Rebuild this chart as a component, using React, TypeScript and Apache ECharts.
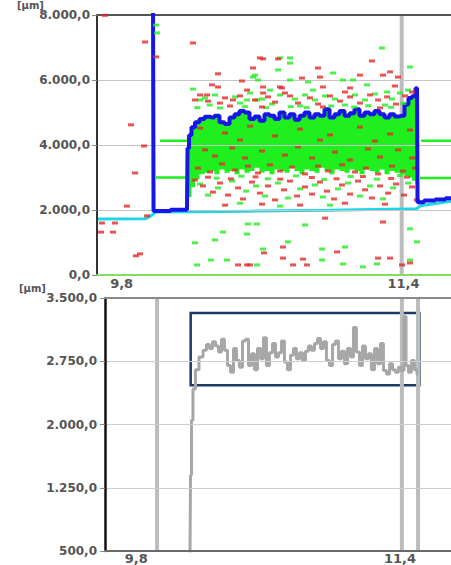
import React, { useEffect, useRef } from "react";
import * as echarts from "echarts";

// ---------- axes ----------
const TOP_Y = { min: 0, max: 8000, step: 2000 };
const BOT_Y = { min: 500, max: 3500, step: 750 };
const TOP_X_RANGE = [9.66, 11.67];
const BOT_X_RANGE = [9.61, 11.71];
const X_LABELS = [9.8, 11.4];
const UNIT = "[µm]";

// ---------- top chart: blue thickness trace ----------
const blueX = [9.978, 9.984, 10.171, 10.177, 10.188, 10.205, 10.228, 10.256, 10.285, 10.313, 10.341, 10.37, 10.398, 10.427, 10.455, 10.483, 10.512, 10.54, 10.568, 10.597, 10.625, 10.654, 10.682, 10.71, 10.739, 10.767, 10.796, 10.824, 10.852, 10.881, 10.909, 10.938, 10.966, 10.994, 11.023, 11.051, 11.08, 11.108, 11.136, 11.165, 11.193, 11.221, 11.25, 11.278, 11.307, 11.335, 11.363, 11.392, 11.42, 11.437, 11.46, 11.477, 11.483, 11.551, 11.608, 11.67];
const blueV = [8600, 1970, 2010, 3900, 4300, 4550, 4700, 4800, 4870, 4850, 4900, 4700, 4650, 4850, 4950, 5050, 5000, 4800, 4880, 4750, 4950, 4900, 4800, 5000, 4850, 4950, 4780, 4900, 5000, 4850, 4950, 4900, 5100, 4850, 4950, 5050, 4900, 4980, 5100, 4900, 5000, 4950, 5050, 4950, 4850, 4950, 4880, 4900, 5250, 5450, 5500, 5750, 2240, 2290, 2320, 2360];

// dense green cloud: lower edge, for blueX[3..51]
const bandLow = [2300, 2400, 2700, 2950, 3100, 3150, 3200, 3100, 3250, 3150, 3200, 3100, 3250, 3150, 3200, 3300, 3150, 3200, 3100, 3250, 3200, 3150, 3300, 3200, 3100, 3250, 3200, 3150, 3300, 3200, 3100, 3250, 3200, 3150, 3250, 3200, 3100, 3250, 3200, 3150, 3250, 3100, 3200, 3150, 3100, 3050, 3000, 2900, 2800];

// cyan reference trace
const cyanX = [9.66, 9.933, 9.961, 9.995, 10.188, 10.529, 10.983, 11.477, 11.495, 11.67];
const cyanV = [1720, 1730, 1800, 1940, 1945, 1965, 1990, 2040, 2130, 2270];

// green level segments [xStart, xEnd, value]
const greenLevels = [
  [10.018, 10.171, 4130],
  [11.5, 11.67, 4130],
  [9.995, 10.171, 3000],
  [11.494, 11.67, 2985],
];

const topMarkerX = [11.39];

// scattered single measurements
const redOutliers = [[9.933,7170],[9.995,6710],[10.205,7140],[10.347,6190],[9.853,4620],[9.927,3970],[9.876,3140],[9.83,2120],[9.688,1600],[9.762,1600],[9.683,1320],[9.751,1320],[9.881,590],[9.904,650],[9.944,1820],[10.608,680],[10.461,310],[10.512,310],[10.716,520],[10.716,860],[10.955,1750],[11.284,1630],[11.023,710],[10.83,490],[10.773,310],[10.852,310],[11.256,520],[11.324,520],[11.437,370],[11.392,310],[10.529,310],[9.705,7990]];
const redUpper = [[10.585,6680],[10.546,6370],[10.483,5970],[10.699,5785],[10.313,5850],[10.347,5785],[10.512,5690],[10.603,5600],[10.432,5385],[10.285,5540],[10.29,5350],[10.358,5290],[11.221,6585],[10.603,6650],[10.688,6650],[10.915,6370],[11.324,6250],[11.153,6150],[10.824,6060],[10.926,6090],[11.284,6150],[11.369,6090],[10.603,5785],[10.71,5755],[10.943,5785],[11.097,5755],[11.352,5815],[10.216,5385],[10.245,5540],[10.387,5450],[10.472,5510],[10.557,5385],[10.631,5480],[10.671,5320],[10.756,5510],[10.801,5290],[10.869,5450],[10.915,5260],[10.983,5510],[11.04,5350],[11.097,5480],[11.153,5290],[11.21,5540],[11.256,5385],[11.307,5480],[11.358,5260],[11.409,5510],[11.449,5630],[10.727,5600],[11.068,5630],[10.415,5200],[10.597,5170],[10.943,5170],[11.267,5140]];
const redInner = [[10.245,4520],[10.387,4370],[10.529,4580],[10.671,4280],[10.813,4490],[10.983,4310],[11.153,4550],[11.324,4340],[11.437,4460],[10.472,4150],[10.926,4150],[11.238,4120],[10.273,3850],[10.33,3660],[10.427,3910],[10.5,3600],[10.597,3815],[10.727,3690],[10.801,3940],[10.881,3600],[11.011,3780],[11.097,3540],[11.199,3880],[11.267,3630],[11.369,3850],[11.449,3600],[10.233,3290],[10.302,3170],[10.37,3420],[10.444,3230],[10.517,3350],[10.574,3140],[10.642,3390],[10.699,3200],[10.767,3320],[10.841,3110],[10.915,3350],[10.972,3200],[11.051,3390],[11.125,3170],[11.187,3290],[11.256,3110],[11.335,3350],[11.398,3200],[11.466,3290]];
const redLower = [[10.216,2920],[10.262,2740],[10.318,2550],[10.358,2830],[10.404,2460],[10.461,2680],[10.489,2340],[10.54,2860],[10.585,2520],[10.631,2740],[10.671,2310],[10.722,2620],[10.756,2890],[10.796,2430],[10.841,2710],[10.881,2490],[10.926,2860],[10.966,2580],[11.006,2340],[11.051,2770],[11.097,2490],[11.142,2890],[11.182,2620],[11.221,2370],[11.267,2740],[11.313,2520],[11.358,2800],[11.403,2460],[11.449,2710],[11.477,2310],[10.387,2150],[10.597,2180],[10.813,2150],[11.068,2210],[11.295,2180],[10.29,3010],[10.42,2960],[10.56,3020],[10.7,2950],[10.88,3000],[11.02,2960],[11.17,3030],[11.33,2970],[11.42,3010]];
const greenUpper = [[9.995,7690],[10.001,7450],[11.278,6985],[11.437,6400],[10.699,6680],[10.756,6680],[10.756,6520],[10.688,6310],[10.546,6090],[10.574,6000],[10.205,5720],[10.512,5385],[10.568,5385],[10.245,5385],[11.0,6215],[10.858,5940],[11.114,6000],[11.057,6000],[10.756,6000],[10.642,5690],[10.886,5690],[11.193,5850],[11.307,5630],[10.557,6150],[10.273,5450],[10.33,5540],[10.444,5480],[10.529,5600],[10.597,5415],[10.699,5540],[10.784,5415],[10.841,5540],[10.898,5385],[10.955,5510],[11.011,5415],[11.125,5540],[11.182,5385],[11.238,5570],[11.335,5415],[11.38,5600],[11.426,5690],[10.472,5290],[10.654,5260],[10.813,5200],[11.068,5230],[11.295,5230],[10.358,5140],[10.23,5150],[10.3,5230],[10.5,5180],[10.62,5150],[10.76,5180],[10.85,5150],[10.99,5200],[11.12,5170],[11.2,5210],[11.33,5160],[11.4,5280]];
const greenLower = [[10.245,2800],[10.29,2460],[10.347,2680],[10.427,2890],[10.506,2580],[10.563,2740],[10.614,2430],[10.688,2830],[10.744,2370],[10.813,2650],[10.898,2770],[10.943,2400],[11.028,2650],[11.085,2830],[11.153,2430],[11.21,2740],[11.284,2340],[11.341,2680],[11.426,2830],[10.472,2210],[10.983,2150],[10.699,2120],[10.34,2980],[10.48,3040],[10.63,2960],[10.79,3050],[10.95,2940],[11.1,3030],[11.25,2950],[11.38,3060]];
const greenOutliers = [[10.375,1320],[10.33,1080],[10.517,1570],[10.512,1260],[10.216,990],[10.603,800],[10.307,460],[10.398,460],[10.568,310],[10.228,310],[10.841,1540],[10.744,1020],[10.938,800],[11.068,860],[10.938,460],[11.437,1420],[11.477,1020],[11.437,460],[11.17,250],[11.057,340],[11.25,340],[10.568,1570]];

// ---------- bottom chart ----------
const bottomTrace = [[10.126,480],[10.132,1400],[10.138,2050],[10.15,2420],[10.168,2650],[10.193,2800],[10.217,2880],[10.235,2950],[10.253,2900],[10.272,2980],[10.29,2930],[10.308,2860],[10.326,3010],[10.344,2880],[10.363,2700],[10.381,2620],[10.399,2900],[10.417,2760],[10.435,2680],[10.454,2990],[10.472,3010],[10.49,2700],[10.508,2840],[10.526,2650],[10.545,2900],[10.563,2780],[10.581,3030],[10.599,2700],[10.617,2850],[10.636,2960],[10.654,2800],[10.672,2850],[10.69,2990],[10.708,2740],[10.727,2650],[10.745,2820],[10.763,2900],[10.781,2780],[10.8,2850],[10.818,2760],[10.836,2870],[10.854,2930],[10.872,2880],[10.891,2960],[10.909,3020],[10.927,2900],[10.945,2980],[10.963,2760],[10.982,2700],[11.0,2950],[11.018,2990],[11.036,2780],[11.054,2870],[11.073,2720],[11.091,2900],[11.109,2800],[11.127,3150],[11.145,2860],[11.164,2700],[11.182,2930],[11.2,2780],[11.218,2840],[11.236,2650],[11.255,2900],[11.273,2720],[11.291,2960],[11.309,2640],[11.328,2600],[11.346,2720],[11.364,2650],[11.382,2620],[11.4,2680],[11.419,2640],[11.431,3280],[11.443,2700],[11.461,2620],[11.479,2760],[11.497,2650],[11.51,2600]];
const bottomMarkersX = [9.926, 11.412, 11.51];
const focusBox = { x: [10.13, 11.518], v: [3321, 2465] };

// ---------- colours ----------
const GREEN = "#1fee1f";
const RED = "#e42a2a";
const BLUE = "#1616e6";
const CYAN = "#1fd6e8";
const GRAY_TRACE = "#a7a7a7";
const GRAY_MARK = "#bcbcbc";
const NAVY = "#1c3a63";
const LABEL = "#555555";

const fmtDE = (v: number) => {
  const [i, d] = v.toFixed(1).split(".");
  return i.replace(/\B(?=(\d{3})+(?!\d))/g, ".") + "," + d;
};
const fmtX = (v: number) => v.toFixed(1).replace(".", ",");

function stepPoints(pts: number[][]) {
  const out: number[][] = [pts[0]];
  for (let i = 1; i < pts.length; i++) {
    const mx = (pts[i - 1][0] + pts[i][0]) / 2;
    out.push([mx, pts[i - 1][1]], [mx, pts[i][1]]);
  }
  out.push(pts[pts.length - 1]);
  return out;
}

export default function App() {
  const ref = useRef<HTMLDivElement>(null);
  useEffect(() => {
    if (!ref.current) return;
    const chart = echarts.init(ref.current, undefined, { renderer: "svg" });
    const bandX = blueX.slice(3, 52);
    const bandHigh = blueV.slice(3, 52);
    const dots = (data: number[][], color: string, z: number) => ({
      type: "scatter",
      xAxisIndex: 0,
      yAxisIndex: 0,
      data,
      symbol: "rect",
      symbolSize: [6, 3],
      itemStyle: { color },
      silent: true,
      z,
    });
    const labelFont = { color: LABEL, fontFamily: "DejaVu Sans", fontWeight: "bold" as const };
    const option: any = {
      animation: false,
      backgroundColor: "#ffffff",
      grid: [
        { left: 97, top: 15, right: 0, height: 260 },
        { left: 105, top: 298, right: 0, height: 257 },
      ],
      xAxis: [
        {
          type: "value", gridIndex: 0, min: TOP_X_RANGE[0], max: TOP_X_RANGE[1], z: 5,
          axisLine: { onZero: false, lineStyle: { color: "#7ee05c", width: 2 } },
          axisTick: { show: false }, splitLine: { show: false },
          axisLabel: { ...labelFont, fontSize: 13, margin: 2, customValues: X_LABELS, formatter: fmtX },
        },
        {
          type: "value", gridIndex: 0, position: "top", min: TOP_X_RANGE[0], max: TOP_X_RANGE[1], z: 5,
          axisLine: { onZero: false, lineStyle: { color: "#555", width: 2 } },
          axisTick: { show: false }, splitLine: { show: false }, axisLabel: { show: false },
        },
        {
          type: "value", gridIndex: 1, min: BOT_X_RANGE[0], max: BOT_X_RANGE[1], z: 5,
          axisLine: { onZero: false, lineStyle: { color: "#6a6a6a", width: 2 } },
          axisTick: { show: false }, splitLine: { show: false },
          axisLabel: { ...labelFont, fontSize: 13, margin: 1, customValues: X_LABELS, formatter: fmtX },
        },
        {
          type: "value", gridIndex: 1, position: "top", min: BOT_X_RANGE[0], max: BOT_X_RANGE[1], z: 5,
          axisLine: { onZero: false, lineStyle: { color: "#8a8a8a", width: 2 } },
          axisTick: { show: false }, splitLine: { show: false }, axisLabel: { show: false },
        },
      ],
      yAxis: [
        {
          type: "value", gridIndex: 0, min: TOP_Y.min, max: TOP_Y.max, interval: TOP_Y.step, z: 5,
          axisLine: { show: true, onZero: false, lineStyle: { color: "#333", width: 2 } },
          axisTick: { show: true, length: 5, lineStyle: { color: "#888" } },
          splitLine: { lineStyle: { color: "#c6c6c6", width: 1 } },
          axisLabel: { ...labelFont, fontSize: 12, margin: 7, formatter: fmtDE },
        },
        {
          type: "value", gridIndex: 1, min: BOT_Y.min, max: BOT_Y.max, interval: BOT_Y.step, z: 5,
          axisLine: { show: true, onZero: false, lineStyle: { color: "#111", width: 2.5 } },
          axisTick: { show: true, length: 5, lineStyle: { color: "#888" } },
          splitLine: { lineStyle: { color: "#cfcfcf", width: 1 } },
          axisLabel: { ...labelFont, fontSize: 12, margin: 8, formatter: fmtDE },
        },
      ],
      graphic: [
        { type: "text", left: 17, top: 0, style: { text: UNIT, fill: LABEL, font: "bold 10px 'DejaVu Sans'" } },
        { type: "text", left: 19, top: 283, style: { text: UNIT, fill: LABEL, font: "bold 10px 'DejaVu Sans'" } },
      ],
      series: [
        // vertical markers (top)
        ...topMarkerX.map((x) => ({
          type: "line", xAxisIndex: 0, yAxisIndex: 0, data: [[x, TOP_Y.min], [x, TOP_Y.max]],
          symbol: "none", silent: true, z: 1, lineStyle: { color: GRAY_MARK, width: 4 },
        })),
        // dense green cloud
        {
          type: "custom", xAxisIndex: 0, yAxisIndex: 0, data: [[10.5, 4000]], silent: true, z: 2, clip: true,
          renderItem: (params: any, api: any) => {
            if (params.dataIndex !== 0) return null;
            const up = stepPoints(bandX.map((x, i) => api.coord([x, bandHigh[i]])));
            const lo = stepPoints(bandX.map((x, i) => api.coord([x, bandLow[i]]))).reverse();
            return { type: "polygon", shape: { points: up.concat(lo) }, style: { fill: GREEN } };
          },
        },
        dots(redInner, RED, 3),
        dots(greenLower, GREEN, 3),
        dots(redLower, RED, 3),
        // cyan trace
        {
          type: "line", xAxisIndex: 0, yAxisIndex: 0, data: cyanX.map((x, i) => [x, cyanV[i]]),
          symbol: "none", silent: true, z: 4, lineStyle: { color: CYAN, width: 3 },
        },
        // green level segments
        ...greenLevels.map((g) => ({
          type: "line", xAxisIndex: 0, yAxisIndex: 0, data: [[g[0], g[2]], [g[1], g[2]]],
          symbol: "none", silent: true, z: 4, lineStyle: { color: GREEN, width: 2.5 },
        })),
        // blue trace
        {
          type: "line", xAxisIndex: 0, yAxisIndex: 0, data: blueX.map((x, i) => [x, blueV[i]]),
          step: "middle", symbol: "none", silent: true, z: 5, lineStyle: { color: BLUE, width: 4 },
        },
        dots(greenUpper, GREEN, 6),
        dots(redUpper, RED, 6),
        dots(greenOutliers, GREEN, 6),
        dots(redOutliers, RED, 6),
        // bottom vertical markers
        ...bottomMarkersX.map((x) => ({
          type: "line", xAxisIndex: 2, yAxisIndex: 1, data: [[x, BOT_Y.min], [x, BOT_Y.max]],
          symbol: "none", silent: true, z: 1, lineStyle: { color: GRAY_MARK, width: 4 },
        })),
        // bottom trace
        {
          type: "line", xAxisIndex: 2, yAxisIndex: 1, data: bottomTrace, step: "middle",
          symbol: "none", silent: true, z: 3, lineStyle: { color: GRAY_TRACE, width: 3 },
          markArea: {
            silent: true,
            itemStyle: { color: "rgba(0,0,0,0)", borderColor: NAVY, borderWidth: 2.5 },
            label: { show: false },
            data: [[{ xAxis: focusBox.x[0], yAxis: focusBox.v[0] }, { xAxis: focusBox.x[1], yAxis: focusBox.v[1] }]],
          },
        },
      ],
    };
    chart.setOption(option);
    return () => chart.dispose();
  }, []);
  return (
    <div
      ref={ref}
      style={{ position: "fixed", left: 0, top: 0, width: 451, height: 565, background: "#fff" }}
    />
  );
}
